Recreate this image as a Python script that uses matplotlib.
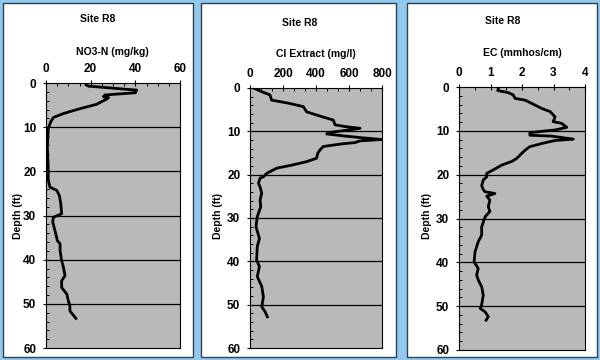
import matplotlib
matplotlib.use("Agg")
import matplotlib.pyplot as plt
from matplotlib.patches import Rectangle
from matplotlib.ticker import MultipleLocator

plt.rcParams['font.family'] = ['Liberation Sans', 'DejaVu Sans']
plt.rcParams['font.weight'] = 'bold'

# ---------------------------------------------------------------
# data (value, depth in ft)
# ---------------------------------------------------------------
no3_val = [18, 19, 40.6, 40, 26.4, 25.7, 28, 27, 24.9, 22.7, 15.2, 7.8, 3.3, 2.1,
           1.0, 0.6, 1.0, 1.0, 1.8, 4.8, 6.0, 6.6, 7.0, 3.3, 3.0, 4.0, 5.1, 6.3,
           6.3, 7.0, 7.8, 8.5, 7.0, 7.0, 9.3, 10.0, 10.7, 10.7, 13.4]
no3_depth = [0.4, 0.7, 1.6, 2.2, 2.7, 3.1, 3.3, 3.7, 4.2, 4.8, 5.8, 6.9, 7.8, 8.8,
             10.3, 14.5, 19.8, 22.0, 23.6, 24.3, 25.5, 27.3, 29.6, 30.4, 31.5, 33.4,
             35.7, 36.4, 38.0, 40.2, 41.7, 43.6, 44.8, 46.3, 47.8, 49.3, 50.5, 51.6, 53.3]

cl_val = [26, 71, 121, 131, 232, 323, 343, 434, 505, 515, 576, 667, 576, 475, 465,
          576, 657, 798, 667, 636, 556, 444, 424, 410, 404, 343, 253, 162, 101, 81,
          61, 51, 61, 71, 61, 65, 44, 36, 57, 44, 40, 57, 44, 71, 81, 71, 91, 105]
cl_depth = [0.1, 0.85, 1.6, 2.8, 3.5, 4.3, 5.5, 6.6, 7.4, 8.5, 8.9, 9.3, 9.8, 10.3,
            10.6, 11.1, 11.4, 11.9, 12.2, 12.6, 12.9, 13.5, 14.3, 15.1, 16.2, 17.0,
            17.8, 18.5, 19.7, 20.5, 20.8, 22.0, 22.8, 24.3, 25.8, 27.4, 29.7, 32.0,
            34.7, 36.6, 39.7, 41.2, 43.5, 45.8, 48.2, 50.5, 51.6, 52.8]

ec_val = [1.25, 1.23, 1.57, 1.72, 1.78, 2.1, 2.41, 2.63, 2.89, 3.05, 2.99, 3.26,
          3.42, 3.05, 2.25, 2.25, 2.94, 3.63, 3.05, 2.68, 2.25, 2.1, 1.94, 1.83,
          1.67, 1.36, 1.09, 0.88, 0.88, 0.77, 0.72, 0.77, 0.83, 1.14, 0.88, 0.98,
          0.93, 0.98, 0.83, 0.72, 0.72, 0.61, 0.51, 0.48, 0.61, 0.56, 0.61, 0.72,
          0.77, 0.72, 0.67, 0.83, 0.93, 0.86]
ec_depth = [0.3, 0.8, 1.3, 1.8, 2.6, 3.0, 4.1, 4.9, 5.6, 6.8, 7.9, 8.3, 9.2, 9.8,
            10.4, 11.0, 11.2, 11.9, 12.2, 12.8, 13.6, 14.4, 15.5, 16.3, 17.0, 17.8,
            18.9, 19.7, 20.5, 21.2, 22.5, 23.4, 23.9, 24.3, 24.9, 25.8, 27.3, 28.4,
            29.6, 31.9, 33.8, 35.3, 37.6, 39.9, 41.4, 42.9, 44.0, 45.6, 47.5, 49.7,
            50.5, 51.3, 52.4, 53.2]

titles = ["NO3-N (mg/kg)", "Cl Extract (mg/l)", "EC (mmhos/cm)"]
xmaxes = [60, 800, 4]
xmajor = [20, 200, 1]
xminor = [5, 200 / 3, 0.5]

# ---------------------------------------------------------------
fig = plt.figure(figsize=(6, 3.6), dpi=100)
fig.patch.set_facecolor('#92c9ee')

# white panels (left, width in figure fraction), drawn behind the axes
panels = [(0.005, 0.317), (0.335, 0.325), (0.678, 0.317)]
for left, w in panels:
    fig.add_artist(Rectangle((left, 0.008), w, 0.983, transform=fig.transFigure,
                             facecolor='white', edgecolor='#33404d', lw=1.0,
                             zorder=-5))

axes_pos = [[0.0767, 0.0333, 0.2233, 0.736],
            [0.4167, 0.0333, 0.22, 0.7223],
            [0.765, 0.0278, 0.21, 0.7305]]
site_x = [0.162, 0.5, 0.837]
site_y = [0.948, 0.936, 0.942]
lab_x = [0.187, 0.527, 0.87]
lab_y = [0.856, 0.85, 0.853]
depth_x = [0.03, 0.363, 0.712]

series = [(no3_val, no3_depth), (cl_val, cl_depth), (ec_val, ec_depth)]

for i in range(3):
    ax = fig.add_axes(axes_pos[i])
    ax.set_zorder(1)
    ax.set_facecolor('#b9b9b9')
    vals, depth = series[i]
    ax.plot(vals, depth, color='black', lw=2.0, zorder=3)
    ax.set_xlim(0, xmaxes[i])
    ax.set_ylim(60, 0)
    ax.xaxis.tick_top()
    ax.xaxis.set_major_locator(MultipleLocator(xmajor[i]))
    ax.xaxis.set_minor_locator(MultipleLocator(xminor[i]))
    ax.yaxis.set_major_locator(MultipleLocator(10))
    ax.yaxis.set_minor_locator(MultipleLocator(2))
    for d in [10, 20, 30, 40, 50]:
        ax.axhline(d, color='black', lw=0.9, zorder=2)
    ax.tick_params(which='major', direction='inout', length=4, width=0.8,
                   labelsize=8.5, pad=4)
    ax.tick_params(axis='y', which='major', pad=5)
    ax.tick_params(which='minor', direction='in', length=2.5, width=0.7)
    for lab in ax.get_xticklabels() + ax.get_yticklabels():
        lab.set_fontweight('bold')
    for sp in ax.spines.values():
        sp.set_linewidth(0.8)
    fig.text(site_x[i], site_y[i], "Site R8", ha='center', va='center',
             fontsize=7.5, fontweight='bold')
    fig.text(lab_x[i], lab_y[i], titles[i], ha='center', va='center',
             fontsize=7.5, fontweight='bold')
    fig.text(depth_x[i], 0.4, "Depth (ft)", ha='center', va='center',
             rotation=90, fontsize=7.5, fontweight='bold')

fig.savefig("out.png", dpi=100, facecolor=fig.get_facecolor())
